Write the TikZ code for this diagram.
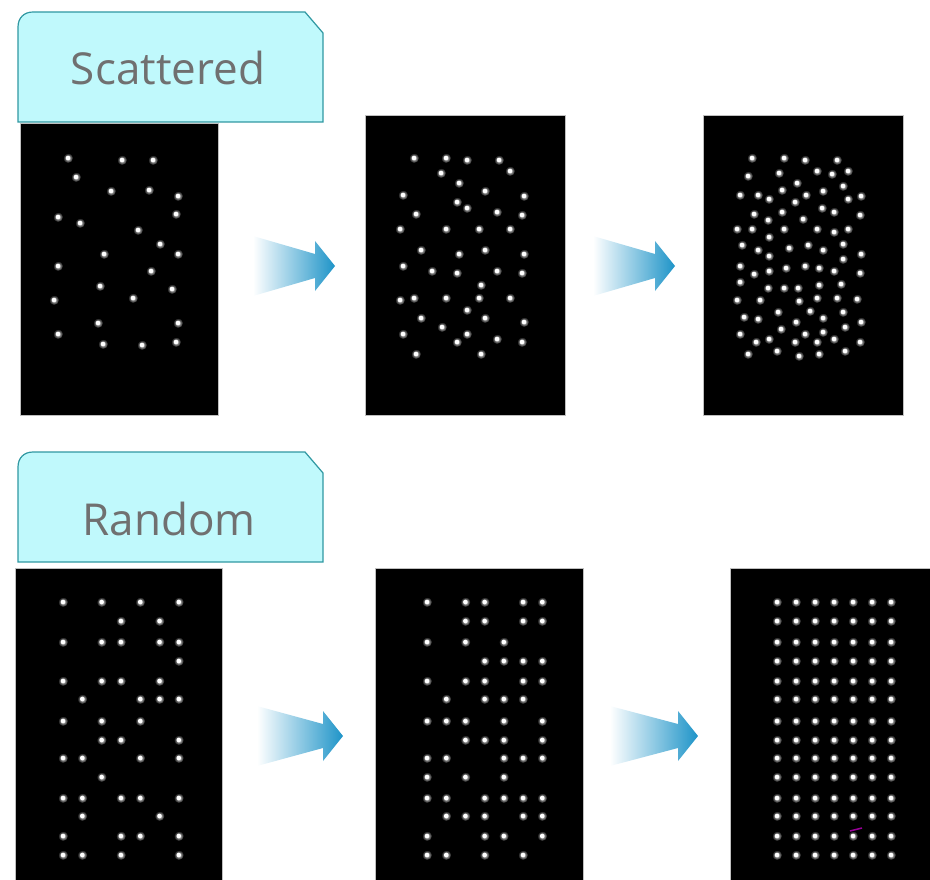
\documentclass[tikz,border=0pt]{standalone}
\usepackage{fontspec}
\setmainfont{Open Sans}
\usepackage{xcolor}
\usepackage{tikz}
\usetikzlibrary{positioning}
\definecolor{tabcyan}{RGB}{192,249,252}
\definecolor{tabteal}{RGB}{48,152,162}
\definecolor{labelgray}{RGB}{112,112,112}
\definecolor{arrowblue}{RGB}{30,148,200}

% faded block arrow: left x, tip x, centre y
\newcommand{\fadearrow}[3]{%
  \shade[left color=white, middle color=arrowblue!60, right color=arrowblue]
    (#1,#3-30) -- (#2-20,#3-12) -- (#2-20,#3-25) -- (#2,#3)
    -- (#2-20,#3+25) -- (#2-20,#3+12) -- (#1,#3+30) -- cycle;}
% label tab: top y
\newcommand{\tabshape}[1]{%
  \draw[tab] (18,#1+110) -- (18,#1+15) .. controls (18,#1+6) and (24,#1) .. (33,#1)
    -- (305,#1) -- (323,#1+21) -- (323,#1+110) -- cycle;}
% glowing spot
\newcommand{\spotat}[2]{%
  \shade[inner color=white, outer color=black] (#1,#2) circle (5pt);
  \fill[white] (#1,#2) circle (2.3pt);}

\begin{document}
\begin{tikzpicture}[x=1pt, y=-1pt,
    panel/.style={draw=gray!50, fill=black, line width=1pt, inner sep=0pt, anchor=north west},
    tab/.style={draw=tabteal, fill=tabcyan, line width=1.2pt},
    tablabel/.style={text=labelgray, anchor=base, font=\fontsize{44}{48}\selectfont}]
\useasboundingbox (0,0) rectangle (930,880);

% Scattered row
\tabshape{12}
\node[tablabel] (scatlabel) at (168,85) {Scattered};
\node[panel, minimum width=198pt, minimum height=292pt] (scat1) at (20,123) {};
\node[panel, minimum width=200pt, minimum height=300pt] (scat2) at (365,115) {};
\node[panel, minimum width=200pt, minimum height=300pt] (scat3) at (703,115) {};

\foreach \x/\y in {68/158,122/160,153/160,76/177,111/191,149/190,178/196,58/217,80/223,
    176/214,138/230,160/244,104/254,178/254,58/266,151/271,100/286,172/289,54/300,
    133/298,98/323,178/323,58/334,103/344,142/345,176/342}
  {\spotat{\x}{\y}}

\foreach \x/\y in {414/158,446/158,467/160,499/160,441/173,510/171,459/183,485/191,
    403/195,524/196,457/202,467/208,416/214,497/212,522/215,400/229,446/229,479/229,
    510/229,421/250,459/254,485/250,524/254,403/266,432/271,457/273,497/271,522/273,
    481/285,400/300,414/298,446/298,479/298,510/298,467/310,421/318,485/318,524/322,
    442/327,403/334,467/334,457/342,497/339,522/342,416/354,481/354}
  {\spotat{\x}{\y}}

\foreach \x/\y in {752/158,784/158,805/160,837/160,748/176,779/173,817/171,832/174,
    848/171,797/183,843/186,740/195,758/195,769/199,782/190,795/202,806/195,823/191,
    848/199,861/196,754/214,768/220,782/212,803/219,822/208,834/212,860/215,737/229,
    752/229,784/229,817/229,834/232,848/229,769/237,742/245,758/250,789/248,808/245,
    823/250,843/244,769/256,843/259,861/254,740/266,754/274,769/271,786/268,805/266,
    819/268,834/271,860/273,740/282,768/288,784/288,798/288,819/285,841/284,737/300,
    760/300,799/301,817/298,837/298,857/299,744/317,758/319,778/312,810/311,823/318,
    843/312,796/322,861/322,781/329,845/327,740/334,756/342,769/339,795/342,805/334,
    823/332,817/342,834/339,860/342,748/354,777/351,799/356,819/354,845/351}
  {\spotat{\x}{\y}}

\fadearrow{253}{335}{266}
\fadearrow{593}{675}{266}

% Random row
\tabshape{452}
\node[tablabel] (randlabel) at (169,535) {Random};
\node[panel, minimum width=207pt, minimum height=314pt] (rand1) at (15,568) {};
\node[panel, minimum width=208pt, minimum height=314pt] (rand2) at (375,568) {};
\node[panel, minimum width=202pt, minimum height=314pt] (rand3) at (730,568) {};

\foreach \y/\cs in {602/{0,2,4,6},621/{3,5},642/{0,2,3,5,6},661/{6},681/{0,2,3,5},
    699/{1,4,5,6},721/{0,2,4},740/{2,3,6},758/{0,1,4,6},777/{2},798/{0,1,3,4,6},
    816/{1,5},836/{0,3,4,6},855/{0,1,3,6}}
  {\foreach \c in \cs {\spotat{63+19.3*\c}{\y}}}

\foreach \y/\cs in {602/{0,2,3,5,6},621/{2,3,5,6},642/{0,2,4},661/{3,4,5,6},
    681/{0,2,3,5,6},699/{1,3,4,5},721/{0,1,2,4,6},740/{2,3,4,6},758/{0,1,4,5,6},
    777/{0,2,4},798/{0,1,3,4,5,6},816/{1,2,3,5,6},836/{0,3,4,6},855/{0,1,3,5}}
  {\foreach \c in \cs {\spotat{427+19.2*\c}{\y}}}

\foreach \y in {602,621,642,661,681,699,721,740,758,777,798,816,836,855}
  {\foreach \c in {0,...,6} {\spotat{777+19*\c}{\y}}}
\draw[violet!80!magenta, line width=1.5pt] (850,831) -- (862,828);

\fadearrow{257}{343}{736}
\fadearrow{610}{698}{736}
\end{tikzpicture}
\end{document}
